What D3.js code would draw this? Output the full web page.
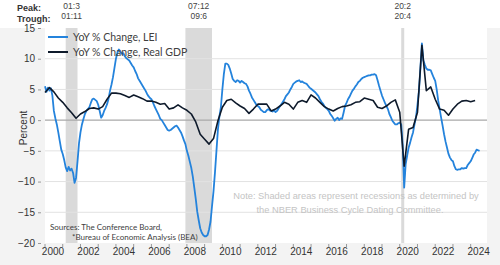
<!DOCTYPE html>
<html>
<head>
<meta charset="utf-8">
<script src="https://d3js.org/d3.v7.min.js"></script>
<style>
  body { margin: 0; background: #fff; }
  svg { display: block; }
</style>
</head>
<body>
<script>

// ---- data ----
// LEI, monthly YoY % change, from 2000-01
var leiStart = "2000-01";
var leiValues = [
  5.5, 4.6, 5.3, 4.8, 5.2, 4.0, 1.5, 0.3, -0.7, -2.0, -3.4, -4.8,          // 2000
  -5.5, -6.5, -7.7, -8.3, -7.6, -8.2, -7.9, -8.6, -10.2, -9.4, -6.7, -3.8, // 2001
  -2.0, -0.7, 0.2, 1.0, 1.5, 1.8, 2.1, 2.8, 3.4, 3.5, 3.3, 3.1,            // 2002
  2.5, 1.5, 0.4, 0.8, 1.5, 2.0, 2.6, 3.5, 4.8, 5.8, 7.0, 8.5,              // 2003
  10.0, 11.0, 11.5, 11.2, 10.8, 10.9, 10.4, 10.1, 9.9, 9.7, 9.3, 8.9,      // 2004
  8.6, 8.0, 7.5, 6.8, 6.4, 6.0, 5.6, 5.2, 4.8, 4.3, 3.9, 3.6,              // 2005
  3.4, 2.9, 2.3, 1.8, 1.3, 0.8, 0.2, 0.0, -0.4, -0.8, -1.2, -1.6,          // 2006
  -1.7, -1.6, -1.4, -1.2, -1.0, -0.9, -1.2, -1.6, -2.0, -2.6, -3.3, -3.9,  // 2007
  -5.0, -5.8, -6.8, -7.8, -9.2, -11.0, -12.8, -14.9, -16.3, -17.6, -18.3, -18.7, // 2008
  -18.9, -18.9, -18.7, -17.8, -16.5, -14.0, -11.6, -8.5, -5.0, -1.5, 0.6, 2.1,   // 2009
  5.0, 7.5, 9.2, 9.2, 9.0, 8.4, 7.6, 6.7, 6.4, 6.2, 6.5, 6.4,              // 2010
  6.1, 6.4, 6.2, 6.0, 5.9, 5.5, 4.8, 4.3, 3.7, 3.3, 2.9, 2.5,              // 2011
  2.3, 2.1, 1.7, 1.5, 1.3, 1.3, 1.6, 1.8, 1.6, 1.5, 1.4, 1.6,              // 2012
  1.3, 1.5, 1.9, 2.3, 2.6, 3.0, 3.4, 3.9, 4.2, 4.5, 5.0, 5.4,              // 2013
  5.9, 6.1, 6.3, 6.4, 6.5, 6.2, 6.3, 6.1, 6.0, 5.9, 5.6, 5.3,              // 2014
  5.1, 4.9, 4.7, 4.5, 4.2, 3.9, 3.4, 3.0, 2.7, 2.3, 2.0, 1.8,              // 2015
  1.5, 1.0, 0.7, 0.3, -0.1, 0.2, 0.4, 0.0, 0.3, 0.2, 1.2, 2.3,             // 2016
  2.8, 3.4, 3.8, 4.3, 4.8, 5.1, 5.5, 5.8, 6.2, 6.4, 6.7, 6.9,              // 2017
  7.0, 7.1, 7.2, 7.3, 7.3, 7.4, 7.4, 7.5, 7.3, 6.5, 5.6, 4.8,              // 2018
  4.0, 3.4, 2.8, 2.3, 1.8, 1.0, 0.5, -0.1, -0.4, -0.7, -0.7, -0.5,         // 2019
  -0.4, -0.7, -4.0, -11.0, -7.2, -5.8, -4.5, -3.7, -2.8, -2.0, -0.7, 0.5,  // 2020
  2.5, 4.8, 8.5, 12.5, 9.7, 9.0, 8.4, 8.2, 8.2, 8.1, 7.5, 6.9,             // 2021
  6.4, 5.0, 3.2, 1.8, 0.4, -0.9, -2.3, -3.5, -4.5, -5.5, -6.1, -6.5,       // 2022
  -6.7, -7.5, -8.0, -8.1, -8.0, -8.0, -7.8, -7.9, -7.8, -7.8, -7.3, -7.0,  // 2023
  -6.7, -6.2, -5.6, -5.3, -4.8, -4.9, -5.0                                 // 2024
];

// Real GDP, quarterly YoY % change, from 2000 Q1
var gdpStart = "2000-Q1";
var gdpValues = [
  4.5, 5.3, 4.6, 3.6,    // 2000
  2.9, 2.0, 1.2, 0.3,    // 2001
  1.0, 1.4, 1.9, 2.0,    // 2002
  1.8, 2.2, 3.4, 4.4,    // 2003
  4.4, 4.3, 4.0, 3.7,    // 2004
  4.1, 3.8, 3.5, 3.1,    // 2005
  3.1, 2.9, 2.6, 2.7,    // 2006
  1.8, 2.0, 2.5, 2.0,    // 2007
  1.6, 1.0, -0.3, -2.3,  // 2008
  -3.1, -3.9, -3.0, -0.1,// 2009
  2.1, 3.2, 3.4, 2.8,    // 2010
  2.3, 1.9, 1.1, 1.8,    // 2011
  2.6, 2.6, 2.6, 1.5,    // 2012
  1.8, 2.3, 2.9, 2.6,    // 2013
  1.8, 2.9, 3.2, 2.9,    // 2014
  4.1, 3.6, 2.9, 2.2,    // 2015
  1.8, 1.5, 1.9, 2.2,    // 2016
  2.3, 2.5, 2.9, 3.0,    // 2017
  3.6, 3.4, 3.2, 2.1,    // 2018
  1.9, 2.3, 2.9, 3.3,    // 2019
  1.3, -7.5, -1.5, -1.2, // 2020
  1.3, 12.2, 4.8, 5.4,   // 2021
  3.4, 1.8, 1.6, 0.8,    // 2022
  1.8, 2.6, 3.1, 3.2,    // 2023
  3.0, 3.2               // 2024
];

// recessions (peak, trough) as year-month
var recPeaks   = ["2001-03", "2007-12", "2020-02"];
var recTroughs = ["2001-11", "2009-06", "2020-04"];
var recPeakLabels   = ["01:3", "07:12", "20:2"];
var recTroughLabels = ["01:11", "09:6", "20:4"];

var yTicks = [15, 10, 5, 0, -5, -10, -15, -20];
var xLabelYears = [2000, 2002, 2004, 2006, 2008, 2010, 2012, 2014, 2016, 2018, 2020, 2022, 2024];

var seriesNames = ["YoY % Change, LEI", "YoY % Change, Real GDP"];

// ---- helpers ----
function ym(s) { var p = s.split("-"); return +p[0] + (+p[1] - 1) / 12; }

var leiData = leiValues.map(function(v, i) { return { t: ym(leiStart) + i / 12, v: v }; });
var gdp0 = +gdpStart.slice(0, 4);
var gdpData = gdpValues.map(function(v, i) { return { t: gdp0 + i / 4, v: v }; });

// ---- layout ----
var W = 500, H = 265;
var margin = {top: 28, right: 13, bottom: 22, left: 45};
var width = W - margin.left - margin.right,
    height = H - margin.top - margin.bottom;

var svg = d3.select("body").append("svg")
    .attr("width", W)
    .attr("height", H)
    .style("font-family", "'Liberation Sans', Arial, sans-serif");

// outer background
svg.append("rect").attr("width", W).attr("height", H).attr("fill", "#f3f3f3");
svg.append("rect").attr("width", W).attr("height", margin.top).attr("fill", "#ffffff");

var g = svg.append("g")
    .attr("transform", "translate(" + margin.left + "," + margin.top + ")");

var x = d3.scaleLinear().domain([2000, 2024.92]).range([0, width]);
var y = d3.scaleLinear().domain([-20, 15]).range([height, 0]);

// plot background
g.append("rect").attr("width", width).attr("height", height).attr("fill", "#ffffff");

// recession shading + peak/trough labels
recPeaks.forEach(function(p, i) {
  var x0 = x(ym(p)), x1 = x(ym(recTroughs[i]));
  g.append("rect")
      .attr("x", x0)
      .attr("y", 0)
      .attr("width", Math.max(x1 - x0, 3))
      .attr("height", height)
      .attr("fill", "#dadada");
  var cx = (x0 + x1) / 2 + margin.left;
  svg.append("text").attr("x", cx).attr("y", 9)
      .attr("text-anchor", "middle").style("font-size", "8.5px").attr("fill", "#444")
      .text(recPeakLabels[i]);
  svg.append("text").attr("x", cx).attr("y", 19)
      .attr("text-anchor", "middle").style("font-size", "8.5px").attr("fill", "#444")
      .text(recTroughLabels[i]);
});

// gridlines
g.selectAll(".grid").data(yTicks.filter(function(d) { return d !== 0 && d !== -20 && d !== 15; }))
  .enter().append("line")
    .attr("x1", 0).attr("x2", width)
    .attr("y1", function(d) { return y(d); })
    .attr("y2", function(d) { return y(d); })
    .attr("stroke", "#e2e2e2")
    .attr("stroke-width", 1);

g.append("line")
    .attr("x1", 0).attr("x2", width)
    .attr("y1", y(0)).attr("y2", y(0))
    .attr("stroke", "#a9a9a9")
    .attr("stroke-width", 1.2);

// note
var note = g.append("text")
    .attr("text-anchor", "middle")
    .attr("fill", "#c4c4c4")
    .style("font-size", "9.3px");
note.append("tspan").attr("x", 311).attr("y", y(-12.9)).text("Note: Shaded areas represent recessions as determined by");
note.append("tspan").attr("x", 305).attr("y", y(-15.1)).text("the NBER Business Cycle Dating Committee.");

// lines
var line = d3.line()
    .x(function(d) { return x(d.t); })
    .y(function(d) { return y(d.v); });

g.append("path")
    .datum(leiData)
    .attr("fill", "none")
    .attr("stroke", "#2483dc")
    .attr("stroke-width", 1.8)
    .attr("stroke-linejoin", "round")
    .attr("d", line);

g.append("path")
    .datum(gdpData)
    .attr("fill", "none")
    .attr("stroke", "#0e1a2b")
    .attr("stroke-width", 1.6)
    .attr("stroke-linejoin", "round")
    .attr("d", line);

// y axis
var yAxis = d3.axisLeft(y).tickValues(yTicks).tickSize(3).tickPadding(3);
var ya = g.append("g").attr("transform", "translate(-4,0)").call(yAxis);
ya.select(".domain").remove();
ya.selectAll("line").attr("stroke", "#999");
ya.selectAll("text").style("font-size", "10px").attr("fill", "#333");

// x axis: ticks each year, labels mid-year on even years
var xTickYears = d3.range(2000, 2025);
var xa = g.append("g").attr("transform", "translate(0," + height + ")");
xa.selectAll("line").data(xTickYears).enter().append("line")
    .attr("x1", function(d) { return x(d); }).attr("x2", function(d) { return x(d); })
    .attr("y1", 1).attr("y2", 4)
    .attr("stroke", "#999");
xa.selectAll("text").data(xLabelYears).enter().append("text")
    .attr("x", function(d) { return x(d + 0.45); })
    .attr("y", 12)
    .attr("text-anchor", "middle")
    .style("font-size", "10px")
    .attr("fill", "#333")
    .text(function(d) { return d; });

// y label
svg.append("text")
    .attr("transform", "translate(26.5," + 128 + ") rotate(-90)")
    .attr("text-anchor", "middle")
    .style("font-size", "10px")
    .attr("fill", "#333")
    .text("Percent");

// legend
var legend = g.append("g").attr("transform", "translate(3,9)")
    .style("font-family", "Lato, 'Open Sans', sans-serif");
[["#2483dc", 0], ["#0e1a2b", 15]].forEach(function(s, i) {
  legend.append("line")
      .attr("x1", 0).attr("x2", 20)
      .attr("y1", s[1]).attr("y2", s[1])
      .attr("stroke", s[0]).attr("stroke-width", 2);
  legend.append("text")
      .attr("x", 25).attr("y", s[1] + 4)
      .style("font-size", "10.5px")
      .attr("fill", "#404040")
      .text(seriesNames[i]);
});

// peak / trough headers
svg.append("text").attr("x", 17).attr("y", 11)
    .style("font-size", "9px").style("font-weight", "bold").attr("fill", "#333").text("Peak:");
svg.append("text").attr("x", 17).attr("y", 22)
    .style("font-size", "9px").style("font-weight", "bold").attr("fill", "#333").text("Trough:");

// sources
var src = g.append("g").style("font-family", "Lato, 'Open Sans', sans-serif")
    .style("font-size", "8px").attr("fill", "#404040");
src.append("text").attr("x", 5).attr("y", 202).text("Sources: The Conference Board,");
src.append("text").attr("x", 27).attr("y", 212).text("*Bureau of Economic Analysis (BEA)");

</script>
</body>
</html>
